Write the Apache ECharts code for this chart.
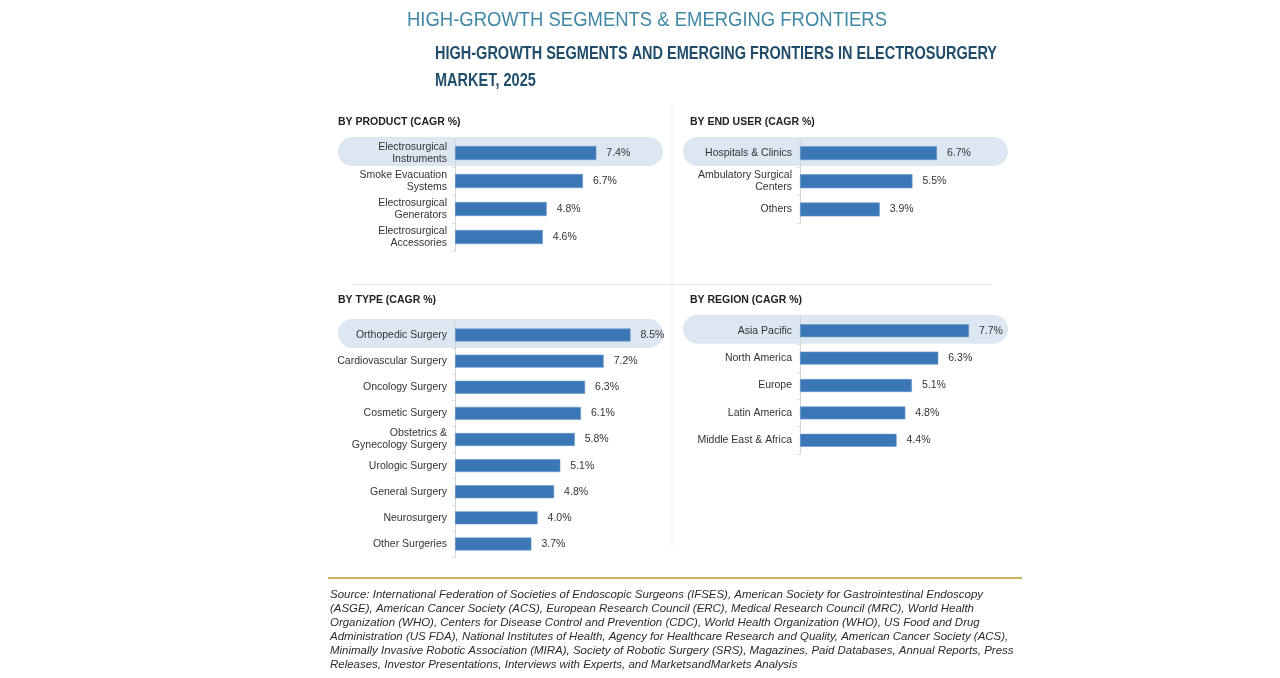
<!DOCTYPE html>
<html>
<head>
<meta charset="utf-8">
<title>High-Growth Segments & Emerging Frontiers</title>
<script src="https://cdn.jsdelivr.net/npm/echarts@6/dist/echarts.min.js"></script>
<style>
  html, body { margin: 0; padding: 0; background: #fff; }
  #chart { width: 1280px; height: 678px; }
</style>
</head>
<body>
<div id="chart"></div>
<script>
// Chart data (CAGR %)
var productCats = ['Electrosurgical\nInstruments', 'Smoke Evacuation\nSystems', 'Electrosurgical\nGenerators', 'Electrosurgical\nAccessories'];
var productCagr = [7.4, 6.7, 4.8, 4.6];

var endUserCats = ['Hospitals & Clinics', 'Ambulatory Surgical\nCenters', 'Others'];
var endUserCagr = [6.7, 5.5, 3.9];

var typeCats = ['Orthopedic Surgery', 'Cardiovascular Surgery', 'Oncology Surgery', 'Cosmetic Surgery',
    'Obstetrics &\nGynecology Surgery', 'Urologic Surgery', 'General Surgery', 'Neurosurgery', 'Other Surgeries'];
var typeCagr = [8.5, 7.2, 6.3, 6.1, 5.8, 5.1, 4.8, 4.0, 3.7];

var regionCats = ['Asia Pacific', 'North America', 'Europe', 'Latin America', 'Middle East & Africa'];
var regionCagr = [7.7, 6.3, 5.1, 4.8, 4.4];

var sourceLines = [
    'Source: International Federation of Societies of Endoscopic Surgeons (IFSES), American Society for Gastrointestinal Endoscopy',
    '(ASGE), American Cancer Society (ACS), European Research Council (ERC), Medical Research Council (MRC), World Health',
    'Organization (WHO), Centers for Disease Control and Prevention (CDC), World Health Organization (WHO), US Food and Drug',
    'Administration (US FDA), National Institutes of Health, Agency for Healthcare Research and Quality, American Cancer Society (ACS),',
    'Minimally Invasive Robotic Association (MIRA), Society of Robotic Surgery (SRS), Magazines, Paid Databases, Annual Reports, Press',
    'Releases, Investor Presentations, Interviews with Experts, and MarketsandMarkets Analysis'
];

var FONT = '"Liberation Sans", Arial, sans-serif';
var BAR = '#3b77b7';
var BAND = '#dde7f2';

// measure text so condensed-looking headings can be squeezed to their width
var measureCtx = document.createElement('canvas').getContext('2d');
function textWidth(txt, font) {
    measureCtx.font = font;
    return measureCtx.measureText(txt).width;
}
// text squeezed horizontally to fit a target width
function fitText(txt, font, x, y, target, fill, extra) {
    var s = target / textWidth(txt, font);
    var el = { type: 'text', x: x, y: y, scaleX: s, style: { text: txt, font: font, fill: fill, textVerticalAlign: 'middle' } };
    if (extra) { for (var k in extra) el.style[k] = extra[k]; }
    return el;
}

// panel layouts: grid box + band x-range
var panels = [
    { name: 'BY PRODUCT (CAGR %)', cats: productCats, vals: productCagr, grid: { left: 455, top: 139, width: 191, height: 112 }, barW: 14, hx: 338, hy: 122, bx: [338, 663] },
    { name: 'BY END USER (CAGR %)', cats: endUserCats, vals: endUserCagr, grid: { left: 800, top: 139, width: 204.5, height: 84.5 }, barW: 14, hx: 690, hy: 122, bx: [683, 1008] },
    { name: 'BY TYPE (CAGR %)', cats: typeCats, vals: typeCagr, grid: { left: 455, top: 322, width: 206.5, height: 235 }, barW: 13, hx: 338, hy: 300, bx: [338, 663] },
    { name: 'BY REGION (CAGR %)', cats: regionCats, vals: regionCagr, grid: { left: 800, top: 317, width: 219.5, height: 137 }, barW: 13, hx: 690, hy: 300, bx: [683, 1008] }
];

function buildOption() {
    var grids = [], xAxes = [], yAxes = [], series = [];
    var t1Font = '20px ' + FONT;
    var t2Font = 'bold 18px ' + FONT;
    var t2 = 'HIGH-GROWTH SEGMENTS AND EMERGING FRONTIERS IN ELECTROSURGERY';
    var t2Scale = 562 / textWidth(t2, t2Font);
    var srcFont = 'italic 11px ' + FONT;
    var srcScale = 653 / textWidth(sourceLines[0], srcFont);

    var graphics = [
        fitText('HIGH-GROWTH SEGMENTS & EMERGING FRONTIERS', t1Font, 407, 20, 480, '#3f88a6'),
        fitText(t2, t2Font, 435, 54, 562, '#1f4d6b'),
        { type: 'text', x: 435, y: 81, scaleX: t2Scale, style: { text: 'MARKET, 2025', font: t2Font, fill: '#1f4d6b', textVerticalAlign: 'middle' } },
        // dividers
        { type: 'line', shape: { x1: 672, y1: 103, x2: 672, y2: 548 }, style: { stroke: '#ededed', lineWidth: 1 } },
        { type: 'line', shape: { x1: 352, y1: 284.5, x2: 992, y2: 284.5 }, style: { stroke: '#ededed', lineWidth: 1 } },
        { type: 'line', shape: { x1: 328, y1: 578, x2: 1022, y2: 578 }, style: { stroke: '#c9b45b', lineWidth: 2 } }
    ];
    sourceLines.forEach(function (line, k) {
        graphics.push({ type: 'text', x: 330, y: 595 + k * 14, scaleX: srcScale,
            style: { text: line, font: srcFont, fill: '#2b2b2b', textVerticalAlign: 'middle' } });
    });

    panels.forEach(function (p, i) {
        grids.push({ left: p.grid.left, top: p.grid.top, width: p.grid.width, height: p.grid.height, containLabel: false });
        xAxes.push({ type: 'value', gridIndex: i, min: 0, max: 10, show: false });
        yAxes.push({
            type: 'category', gridIndex: i, inverse: true, data: p.cats,
            axisLine: { show: true, lineStyle: { color: '#d4d4d4' } },
            axisTick: { show: true, length: 3, lineStyle: { color: '#dcdcdc' } },
            axisLabel: { color: '#333', fontSize: 10.5, fontFamily: FONT, lineHeight: 12, margin: 8 }
        });
        series.push({
            type: 'bar', xAxisIndex: i, yAxisIndex: i, data: p.vals, barWidth: p.barW,
            itemStyle: { color: BAR, borderColor: '#6b9bcb', borderWidth: 0.6 },
            label: {
                show: true, position: 'right', distance: 10, color: '#333', fontSize: 10.5, fontFamily: FONT,
                formatter: function (d) { return d.value.toFixed(1) + '%'; }
            },
            silent: true, animation: false
        });
        graphics.push({ type: 'text', x: p.hx, y: p.hy, style: { text: p.name, font: 'bold 10.5px ' + FONT, fill: '#222', textVerticalAlign: 'middle' } });
    });

    return { animation: false, grid: grids, xAxis: xAxes, yAxis: yAxes, series: series, graphic: graphics };
}

var chart = echarts.init(document.getElementById('chart'), null, { renderer: 'canvas' });
chart.setOption(buildOption());

// highlight band behind the leading category of each panel
var bands = panels.map(function (p, i) {
    var pt = chart.convertToPixel({ gridIndex: i }, [0, p.cats[0]]);
    return {
        type: 'rect', id: 'band' + i, z: -10,
        shape: { x: p.bx[0], y: pt[1] - 16, width: p.bx[1] - p.bx[0], height: 29, r: 14.5 },
        style: { fill: BAND }
    };
});
chart.setOption({ graphic: bands });
</script>
</body>
</html>
